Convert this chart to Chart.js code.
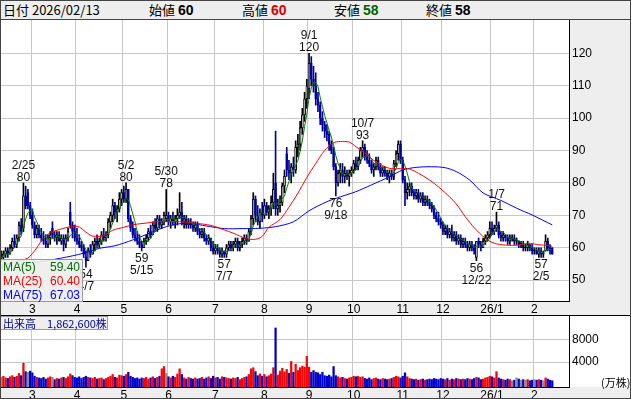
<!DOCTYPE html>
<html>
<head>
<meta charset="utf-8">
<script src="https://cdn.jsdelivr.net/npm/chart.js@4.4.1/dist/chart.umd.min.js"></script>
<style>
body{margin:0;width:631px;height:399px;position:relative;overflow:hidden;background:#fff;font-family:"Liberation Sans",Arial,sans-serif;}
.abs{position:absolute;}
#head{left:0;top:0;width:631px;height:19px;background:#eee;border-bottom:1px solid #444;font-family:"Noto Sans CJK JP",sans-serif;font-size:13px;line-height:20px;color:#000;}
#head span{position:absolute;top:0;white-space:nowrap;}
#head b{font-family:"Liberation Sans",Arial,sans-serif;font-size:14px;}
.grey{background:#eee;}
#maBox{left:0;top:259px;width:81px;height:41px;background:rgba(238,238,238,0.92);border:1px solid #999;font-size:12px;line-height:14px;}
#maBox div{position:relative;height:14px;padding-left:2px;}
#maBox div span{position:absolute;right:2px;top:0;}
#volBox{left:0;top:316px;width:104px;height:12px;background:#eee;border:1px solid #999;font-family:"Noto Sans CJK JP",sans-serif;font-size:11px;line-height:12px;color:#0000a0;white-space:nowrap;padding-left:2px;box-sizing:content-box;}
#unit{left:601px;top:374px;font-family:"Noto Sans CJK JP",sans-serif;font-size:11px;color:#000;}
#frame{left:0;top:0;width:629px;height:397px;border:1px solid #444;pointer-events:none;}
</style>
</head>
<body>
<div class="abs grey" style="left:569px;top:20px;width:62px;height:281px;"></div>
<div class="abs grey" style="left:0;top:301px;width:631px;height:14px;"></div>
<div class="abs grey" style="left:0;top:387px;width:631px;height:12px;"></div>
<div class="abs" style="left:0;top:315px;width:631px;height:1px;background:#000;"></div>

<div id="head" class="abs">
  <span style="left:3px">日付 2026/02/13</span>
  <span style="left:149px">始値 <b>60</b></span>
  <span style="left:242px">高値 <b style="color:#e00000">60</b></span>
  <span style="left:334px">安値 <b style="color:#006400">58</b></span>
  <span style="left:426px">終値 <b>58</b></span>
</div>

<canvas id="priceChart" class="abs" style="left:0;top:20px;" width="631" height="295"></canvas>
<canvas id="volChart" class="abs" style="left:0;top:315px;" width="631" height="84"></canvas>

<div id="maBox" class="abs">
  <div style="color:#007000">MA(5)<span>59.40</span></div>
  <div style="color:#ff0000">MA(25)<span>60.40</span></div>
  <div style="color:#0000ff">MA(75)<span>67.03</span></div>
</div>
<div id="volBox" class="abs">出来高　1,862,600株</div>
<div id="unit" class="abs">(万株)</div>
<div id="frame" class="abs"></div>

<script>
// trading days, month by month
const months = ['2025/02','2025/03','2025/04','2025/05','2025/06','2025/07','2025/08','2025/09','2025/10','2025/11','2025/12','2026/01','2026/02'];
const monthDays = [
  [7,10,12,13,14,17,18,19,20,21,25,26,27,28],
  [3,4,5,6,7,10,11,12,13,14,17,18,19,21,24,25,26,27,28,31],
  [1,2,3,4,7,8,9,10,11,14,15,16,17,18,21,22,23,24,25,28,30],
  [1,2,7,8,9,12,13,14,15,16,19,20,21,22,23,26,27,28,29,30],
  [2,3,4,5,6,9,10,11,12,13,16,17,18,19,20,23,24,25,26,27,30],
  [1,2,3,4,7,8,9,10,11,14,15,16,17,18,22,23,24,25,28,29,30,31],
  [1,4,5,6,7,8,12,13,14,15,18,19,20,21,22,25,26,27,28,29],
  [1,2,3,4,5,8,9,10,11,12,16,17,18,19,22,24,25,26,29,30],
  [1,2,3,6,7,8,9,10,14,15,16,17,20,21,22,23,24,27,28,29,30,31],
  [4,5,6,7,10,11,12,13,14,17,18,19,20,21,25,26,27,28],
  [1,2,3,4,5,8,9,10,11,12,15,16,17,18,19,22,23,24,25,26,29,30],
  [5,6,7,8,9,13,14,15,16,19,20,21,22,23,26,27,28,29,30],
  [2,3,4,5,6,9,10,12,13]
];
const monthTickText = ['','3','4','5','6','7','8','9','10','11','12','26/1','2'];

const open = [
  58,57,58,59,58,60,62,61,63,67, 66,76,77,73,70,67,64,66,64,63, 62,61,63,66,64,63,64,62,63,61,
  63,71,67,65,63,62,61,60,57,56, 59,58,61,62,61,62,64,63,64,68, 70,73,71,72,75,77,75,78,69,66,
  64,63,62,61,60,62,63,65,64,67, 66,69,67,68,69,70,68,69,68,69, 70,71,68,69,67,68,67,66,67,65,
  64,65,63,62,63,60,59,60,59,58, 59,58,60,61,60,61,62,60,61,62, 63,62,65,69,75,70,68,71,70,73,
  71,72,74,80,72,73,74,79,89,84, 83,85,84,91,92,97,101,106,109,117, 112,110,106,104,100,98,96,95,92,90,
  85,80,83,84,82,83,82,83,84,86, 85,87,90,91,88,87,86,84,85,87, 85,83,84,83,82,83,82,86,89,92,
  87,81,77,78,79,77,76,77,75,76, 74,75,74,73,72,70,69,68,67,65, 66,64,65,63,64,62,63,61,62,61,
  60,61,60,57,62,61,60,62,63,64, 66,65,66,67,64,63,64,63,62,63, 63,62,62,61,61,60,60,61,60,59,
  59,58,59,58,59,62,60,60
];
const high = [
  59,59,60,60,61,63,64,64,68,69, 80,79,78,74,72,68,67,67,66,65, 64,64,65,68,65,65,65,64,64,64,
  66,74,68,67,66,64,62,61,59,60, 61,62,63,64,63,65,66,65,69,71, 75,74,73,77,78,79,80,78,70,68,
  66,65,64,62,63,64,66,67,68,69, 70,70,69,71,78,71,70,71,70,72, 77,74,70,70,69,69,68,68,68,66,
  66,66,64,64,63,62,61,61,60,60, 59,61,62,62,62,63,63,62,63,64, 64,66,70,77,76,73,72,74,75,74,
  73,76,83,96,75,76,80,84,91,87, 86,88,93,95,99,103,108,112,120,119, 116,114,108,105,102,99,98,96,93,91,
  86,84,86,86,85,84,84,85,87,88, 88,91,93,92,90,89,87,86,88,88, 86,85,85,84,84,84,87,90,93,93,
  88,82,80,80,80,78,78,78,77,77, 76,76,75,74,73,71,71,69,68,67, 67,66,67,65,65,64,64,63,63,62,
  62,62,61,62,63,62,63,64,65,68, 68,67,71,68,65,65,64,64,64,64, 64,63,62,62,62,61,62,61,61,60,
  60,60,60,59,64,63,61,60
];
const low = [
  56,56,57,57,58,59,60,60,62,64, 65,72,72,69,66,63,63,63,62,61, 60,60,61,63,62,61,62,61,59,60,
  62,66,63,62,61,60,59,57,54,56, 57,58,59,60,60,61,62,62,63,66, 68,69,68,71,73,74,74,68,65,63,
  62,61,60,59,60,61,62,63,64,65, 65,66,66,67,68,67,66,67,66,67, 69,67,66,66,66,66,65,65,64,63,
  63,62,61,61,59,58,58,58,57,57, 57,57,59,59,59,60,59,59,60,61, 61,62,64,67,68,67,66,68,69,70,
  69,70,72,70,70,71,73,77,82,81, 80,82,83,88,90,95,99,103,106,110, 108,104,102,98,96,94,93,90,89,84,
  76,79,80,80,80,81,79,82,83,84, 84,86,88,87,86,85,83,82,84,84, 82,82,82,81,80,81,81,85,87,86,
  80,73,75,76,76,75,75,74,74,73, 73,73,72,71,69,68,67,66,64,64, 63,63,62,62,61,61,60,60,60,59,
  59,59,58,56,60,59,60,61,62,63, 64,64,65,63,62,62,62,61,61,62, 61,61,60,60,59,59,59,59,58,58,
  58,57,57,57,59,59,58,58
];
const close = [
  57,58,59,58,60,62,61,63,67,65, 76,73,73,70,67,64,66,64,63,62, 61,63,64,64,63,64,62,63,61,63,
  65,67,65,63,62,61,60,58,56,59, 58,61,62,61,62,64,63,64,68,70, 73,71,72,75,77,75,78,69,66,64,
  63,62,61,60,62,63,65,64,67,66, 69,67,68,70,70,68,69,68,69,70, 71,68,69,67,68,67,66,67,65,64,
  65,63,62,63,60,59,60,59,58,59, 58,60,61,60,61,62,60,61,62,63, 62,65,69,75,70,68,71,70,73,71,
  72,74,78,72,73,74,79,82,84,83, 85,84,91,92,97,101,106,110,117,112, 110,106,104,100,98,96,95,92,90,85,
  80,83,84,82,83,82,83,84,86,85, 87,90,91,88,87,86,84,85,87,85, 83,84,83,82,83,82,86,89,92,87,
  81,77,78,79,77,76,77,75,76,74, 75,74,73,72,70,69,68,67,65,66, 64,65,63,64,62,63,61,62,61,60,
  61,60,59,62,61,60,62,63,64,66, 65,66,67,64,63,64,63,62,63,63, 62,62,61,61,60,60,61,60,59,59,
  58,59,58,58,62,60,59,58
];
// volume in 万株
const volume = [
  1300,1500,1200,1100,1400,1600,1300,1500,2000,1600, 3800,2300,2200,2400,2100,1500,1300,1200,1100,1300,
  1000,1200,1400,1300,900,1100,1000,1200,1300,1100, 1400,1900,1600,1300,1200,1400,1100,1300,1500,1300,
  1200,1100,1300,1000,1100,1200,900,1100,1300,1500, 1800,1300,1200,1700,1600,1500,1800,2200,1500,1300,
  1100,1200,1000,1200,1100,1300,1000,1200,1400,1100, 1300,1500,2800,3200,2000,1400,1200,1500,1300,1900,
  2800,1800,1200,1000,1300,1100,1000,1200,1000,1100, 1300,1000,1200,1400,1100,1500,1200,1300,1000,1400,
  1300,1200,1100,1000,1200,1100,1300,900,1100,1300, 1400,1800,2800,3000,2300,1600,1900,1500,1800,1400,
  1600,1900,3000,10000,1700,2400,2900,2300,2700,2000, 4100,2200,3600,2500,3000,3300,3100,5000,3100,2200,
  2500,2200,2100,1800,2200,1600,1500,1700,1400,3200, 1600,1400,1200,1300,1100,1000,1200,1300,1500,1400,
  1500,1300,1400,1100,1000,1200,900,1100,1200,1000, 900,1100,1000,900,1000,1100,1300,1500,1400,1200,
  1500,2100,1400,1100,1000,900,1000,800,900,1000, 800,900,1000,900,1100,1000,900,1100,1000,900,
  1100,800,1000,900,1100,1000,900,1000,900,1100, 1000,900,1100,1300,1200,900,1000,1200,1300,1500,
  1400,1200,2300,1200,1000,900,800,1000,900,700, 800,1200,1000,800,900,800,900,700,800,900,
  800,900,800,700,1200,1000,800,700
];
// moving averages (trading-day number, value)
const ma25At  = [0,6,12,16,19,22,26,32,35,38,41,46,50,55,59,65,71,77,83,88,94,100,104,110,114,117,120,125,129,133,137,141,145,149,152,156,159,163,168,174,179,183,187,192,196,201,204,208,212,217,221,226,232,236,241,245,247];
const ma25Val = [54.5,55.6,56.8,60,63,64.6,65.6,66.6,66.4,64.8,63.6,63.7,65.4,66.3,67.1,67.6,68.1,68.1,67.9,67.5,66.9,65.5,64.5,62.8,62.6,63.5,66.3,68.7,72.5,76.8,81.7,86,90,92.4,92.8,92.6,91.2,89.2,86.5,84.5,84.4,84.3,83,80.9,78.8,75.7,73.5,69.6,66.2,62.9,61.4,60.8,60.8,61.4,60.9,60.7,60.4];
const ma75At  = [0,14,27,37,44,51,59,68,74,80,85,92,100,108,116,123,131,138,146,152,159,166,174,180,186,193,199,204,210,216,224,231,238,247];
const ma75Val = [54,55.3,56.8,58.3,59.8,60.6,62.4,64.9,66.5,67.4,67.5,66.7,65.9,65.9,66,66.5,68,71.4,74.2,75.7,77.3,79.4,81.9,84,84.8,85,84.7,83.5,80.9,76.9,74.6,72.2,70.1,67.03];
const priceTicks = [50,60,70,80,90,100,110,120];
const volTicks = [4000,8000];
// high / low markers
const markIdx   = [10,56,74,138,162,222,38,63,100,150,213,242];
const markPrice = [80,80,78,120,93,71,54,59,57,76,56,57];
const markDate  = ['2/25','5/2','5/30','9/1','10/7','1/7','4/7','5/15','7/7','9/18','12/22','2/5'];
const markKind  = ['H','H','H','H','H','H','L','L','L','L','L','L'];

// build labels
const dates = [];
const tickText = {};
months.forEach((m, k) => {
  monthDays[k].forEach((d, j) => {
    if (j === 0 && monthTickText[k]) tickText[dates.length] = monthTickText[k];
    dates.push(m + '/' + String(d).padStart(2, '0'));
  });
});
const labels = dates.slice();
for (let i = 0; i < 7; i++) labels.push('');

const UP_BORDER = '#000000';
const DOWN = '#0000a0';
const dir = close.map((c, i) => c > open[i] ? 1 : (c < open[i] ? -1 : 0));

const ma5 = close.map((c, i) => {
  const s = close.slice(Math.max(0, i - 4), i + 1);
  return s.reduce((a, b) => a + b, 0) / s.length;
});
const ma25 = new Array(dates.length).fill(null);
ma25At.forEach((d, k) => ma25[d] = ma25Val[k]);
const ma75 = new Array(dates.length).fill(null);
ma75At.forEach((d, k) => ma75[d] = ma75Val[k]);

Chart.defaults.font.family = '"Liberation Sans", Arial, sans-serif';
Chart.defaults.font.size = 12;
Chart.defaults.color = '#000';

const whiteArea = {
  id: 'whiteArea',
  beforeDraw(chart) {
    const {ctx, chartArea: a} = chart;
    ctx.save();
    ctx.fillStyle = '#fff';
    ctx.fillRect(a.left, a.top, a.right - a.left, a.bottom - a.top);
    ctx.restore();
  }
};

const markers = {
  id: 'markers',
  afterDatasetsDraw(chart) {
    const {ctx} = chart;
    const xs = chart.scales.x, ys = chart.scales.y;
    ctx.save();
    ctx.font = '12px "Liberation Sans", Arial, sans-serif';
    ctx.fillStyle = '#111';
    ctx.textAlign = 'center';
    ctx.textBaseline = 'alphabetic';
    markIdx.forEach((i, k) => {
      const x = xs.getPixelForValue(i);
      const y = ys.getPixelForValue(markPrice[k]);
      if (markKind[k] === 'H') {
        ctx.fillText(String(markPrice[k]), x, y - 2);
        ctx.fillText(markDate[k], x, y - 14);
      } else {
        ctx.fillText(String(markPrice[k]), x, y + 11);
        ctx.fillText(markDate[k], x, y + 23);
      }
    });
    ctx.restore();
  }
};

function xAxis(h) {
  return {
    type: 'category',
    offset: true,
    grid: {
      offset: true,
      drawTicks: false,
      color: c => (c.index !== undefined && tickText[c.index]) ? '#c8c8c8' : 'rgba(0,0,0,0)'
    },
    border: {display: true, color: '#000', width: 1},
    ticks: {
      autoSkip: false, maxRotation: 0, minRotation: 0, padding: 1,
      color: '#000',
      callback: (v, i) => tickText[i] || ''
    },
    afterFit: s => { s.height = h; s.paddingLeft = 0; s.paddingRight = 0; }
  };
}

new Chart(document.getElementById('priceChart'), {
  type: 'bar',
  data: {
    labels: labels,
    datasets: [
      {type: 'line', data: ma5, borderColor: '#008000', borderWidth: 1, pointRadius: 0, tension: 0, order: 0},
      {type: 'line', data: ma25, borderColor: '#ff0000', borderWidth: 1, pointRadius: 0, tension: 0.3, spanGaps: true, order: 0},
      {type: 'line', data: ma75, borderColor: '#0000ff', borderWidth: 1, pointRadius: 0, tension: 0.3, spanGaps: true, order: 0},
      {
        data: open.map((o, i) => [Math.min(o, close[i]), Math.max(o, close[i])]),
        backgroundColor: dir.map(d => d > 0 ? '#fff' : (d < 0 ? DOWN : '#000')),
        borderColor: dir.map(d => d < 0 ? DOWN : UP_BORDER),
        borderWidth: 1, borderSkipped: false, barThickness: 2, minBarLength: 1,
        grouped: false, order: 2
      },
      {
        data: low.map((l, i) => [l, high[i]]),
        backgroundColor: dir.map(d => d < 0 ? DOWN : '#000'),
        barThickness: 1, grouped: false, order: 3
      }
    ]
  },
  options: {
    responsive: false, animation: false, devicePixelRatio: 1,
    layout: {padding: 0},
    plugins: {legend: {display: false}, tooltip: {enabled: false}},
    scales: {
      x: xAxis(14),
      y: {
        position: 'right', min: 43.55, max: 130.3,
        afterBuildTicks: s => { s.ticks = priceTicks.map(v => ({value: v})); },
        grid: {color: '#c8c8c8', drawTicks: false},
        border: {display: true, color: '#000', width: 1},
        ticks: {padding: 3, color: '#000'},
        afterFit: s => { s.width = 62; s.paddingTop = 0; s.paddingBottom = 0; }
      }
    }
  },
  plugins: [whiteArea, markers]
});

new Chart(document.getElementById('volChart'), {
  type: 'bar',
  data: {
    labels: labels,
    datasets: [{
      data: volume,
      base: -400,
      backgroundColor: close.map((c, i) => i === 0 || c === close[i - 1] ? '#8c8c8c' : (c > close[i - 1] ? '#ff0000' : '#0000c8')),
      barThickness: 1.6
    }]
  },
  options: {
    responsive: false, animation: false, devicePixelRatio: 1,
    layout: {padding: {top: 1}},
    plugins: {legend: {display: false}, tooltip: {enabled: false}},
    scales: {
      x: xAxis(12),
      y: {
        position: 'right', min: -400, max: 12110,
        afterBuildTicks: s => { s.ticks = volTicks.map(v => ({value: v})); },
        grid: {color: '#c8c8c8', drawTicks: false},
        border: {display: true, color: '#000', width: 1},
        ticks: {padding: 3, color: '#000', callback: v => String(v)},
        afterFit: s => { s.width = 62; s.paddingTop = 0; s.paddingBottom = 0; }
      }
    }
  },
  plugins: [whiteArea]
});
</script>
</body>
</html>
